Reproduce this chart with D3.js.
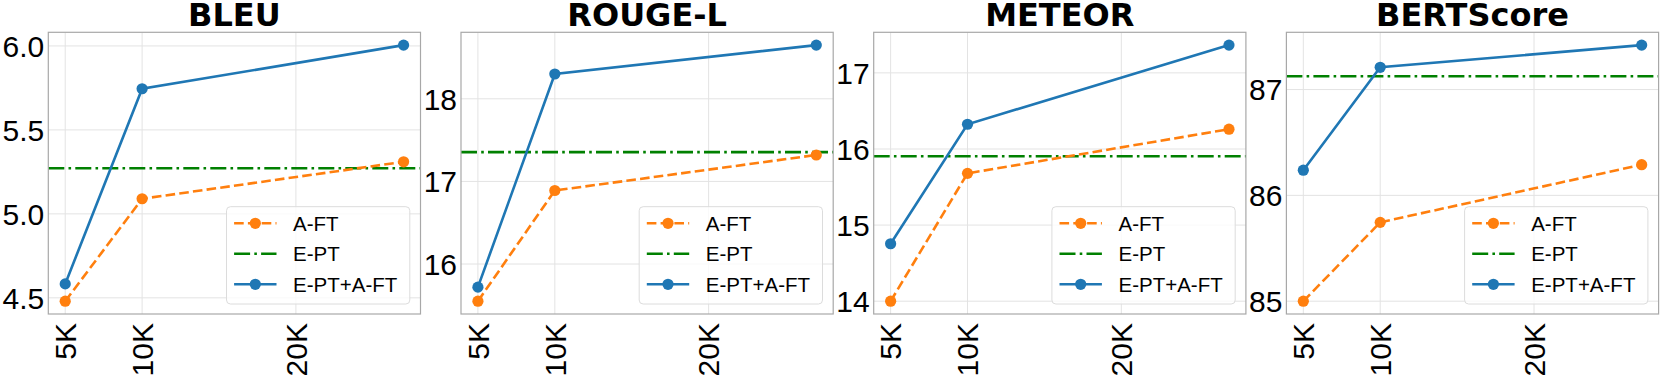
<!DOCTYPE html>
<html>
<head>
<meta charset="utf-8">
<script src="https://cdn.jsdelivr.net/npm/d3@7"></script>
<style>
  body { margin: 0; background: #fff; }
  svg { display: block; }
  text.title { font-family: "DejaVu Sans", sans-serif; font-weight: bold; }
  text.tick, text.legend { font-family: "Liberation Sans", Arial, sans-serif; }
</style>
</head>
<body>
<div id="chart"></div>
<script>
// training data sizes (in K)
var sizes = [5, 10, 27];
var xTicks = [5, 10, 20];
var xTickLabels = ["5K", "10K", "20K"];

// one entry per panel
var metrics = ["BLEU", "ROUGE-L", "METEOR", "BERTScore"];
var aft   = [[4.48, 5.09, 5.31], [15.55, 16.89, 17.32], [14.00, 15.68, 16.26], [85.00, 85.745, 86.29]];
var ept   = [5.272, 17.355, 15.905, 87.125];
var eptAft = [[4.583, 5.745, 6.005], [15.72, 18.30, 18.65], [14.755, 16.325, 17.365], [86.238, 87.21, 87.42]];
var yTicks = [[4.5, 5.0, 5.5, 6.0], [16, 17, 18], [14, 15, 16, 17], [85, 86, 87]];
var yFormats = [".1f", "d", "d", "d"];

var seriesNames = ["A-FT", "E-PT", "E-PT+A-FT"];
var colors = {aft: "#ff7f0e", ept: "#008000", both: "#1f77b4"};

/** Layout **/
var W = 1661, H = 380;
var layout = {left: 48.3, top: 32.3, bottom: 314, width: 372.2, step: 412.7};

var svg = d3.select("#chart").append("svg")
  .attr("width", W).attr("height", H);

// matplotlib-like 5% margins
function padded(lo, hi) {
  var p = (hi - lo) * 0.05;
  return [lo - p, hi + p];
}

metrics.forEach(function (name, i) {
  var x0 = layout.left + i * layout.step;
  var g = svg.append("g").attr("transform", "translate(" + x0 + ",0)");

  var allY = aft[i].concat(eptAft[i]);
  var x = d3.scaleLinear()
    .domain(padded(d3.min(sizes), d3.max(sizes)))
    .range([0, layout.width]);
  var y = d3.scaleLinear()
    .domain(padded(d3.min(allY), d3.max(allY)))
    .range([layout.bottom, layout.top]);

  // grid
  g.append("g").selectAll("line").data(xTicks).enter().append("line")
    .attr("x1", function (d) { return x(d); }).attr("x2", function (d) { return x(d); })
    .attr("y1", layout.top).attr("y2", layout.bottom)
    .attr("stroke", "#e3e3e3").attr("stroke-width", 1);
  g.append("g").selectAll("line").data(yTicks[i]).enter().append("line")
    .attr("x1", 0).attr("x2", layout.width)
    .attr("y1", function (d) { return y(d); }).attr("y2", function (d) { return y(d); })
    .attr("stroke", "#e3e3e3").attr("stroke-width", 1);

  // E-PT horizontal reference
  g.append("line")
    .attr("x1", 0).attr("x2", layout.width)
    .attr("y1", y(ept[i])).attr("y2", y(ept[i]))
    .attr("stroke", colors.ept).attr("stroke-width", 2.6)
    .attr("stroke-dasharray", "16,4.2,2.6,4.2");

  var line = d3.line()
    .x(function (d, j) { return x(sizes[j]); })
    .y(function (d) { return y(d); });

  // A-FT
  g.append("path").datum(aft[i]).attr("d", line)
    .attr("fill", "none").attr("stroke", colors.aft)
    .attr("stroke-width", 2.6).attr("stroke-dasharray", "9.6,4.2");
  g.append("g").selectAll("circle").data(aft[i]).enter().append("circle")
    .attr("cx", function (d, j) { return x(sizes[j]); })
    .attr("cy", function (d) { return y(d); })
    .attr("r", 5.6).attr("fill", colors.aft);

  // E-PT+A-FT
  g.append("path").datum(eptAft[i]).attr("d", line)
    .attr("fill", "none").attr("stroke", colors.both).attr("stroke-width", 2.6);
  g.append("g").selectAll("circle").data(eptAft[i]).enter().append("circle")
    .attr("cx", function (d, j) { return x(sizes[j]); })
    .attr("cy", function (d) { return y(d); })
    .attr("r", 5.6).attr("fill", colors.both);

  // frame
  g.append("rect")
    .attr("x", 0).attr("y", layout.top)
    .attr("width", layout.width).attr("height", layout.bottom - layout.top)
    .attr("fill", "none").attr("stroke", "#a8a8a8").attr("stroke-width", 1.2);

  // y tick labels
  var fmt = d3.format(yFormats[i]);
  g.append("g").selectAll("text").data(yTicks[i]).enter().append("text")
    .attr("class", "tick")
    .attr("x", -4).attr("y", function (d) { return y(d); })
    .attr("dy", "0.36em").attr("text-anchor", "end")
    .attr("font-size", 30).attr("fill", "#000")
    .text(function (d) { return fmt(d); });

  // x tick labels, rotated
  g.append("g").selectAll("text").data(xTicks).enter().append("text")
    .attr("class", "tick")
    .attr("transform", function (d) { return "translate(" + x(d) + ",323) rotate(-90)"; })
    .attr("dy", "0.36em").attr("text-anchor", "end")
    .attr("font-size", 30).attr("fill", "#000")
    .text(function (d, j) { return xTickLabels[j]; });

  // title
  g.append("text")
    .attr("class", "title")
    .attr("x", layout.width / 2).attr("y", 26)
    .attr("text-anchor", "middle")
    .attr("font-size", 32)
    .text(name);

  // legend, lower right
  var lw = 183.3, lh = 97.3;
  var lg = g.append("g")
    .attr("transform", "translate(" + (layout.width - 10.7 - lw) + "," + (layout.bottom - 10 - lh) + ")");
  lg.append("rect").attr("width", lw).attr("height", lh).attr("rx", 4)
    .attr("fill", "#fff").attr("fill-opacity", 0.8)
    .attr("stroke", "#dcdcdc").attr("stroke-width", 1);
  var styles = [
    {c: colors.aft, dash: "9.6,4.2", marker: true},
    {c: colors.ept, dash: "16,4.2,2.6,4.2", marker: false},
    {c: colors.both, dash: null, marker: true}
  ];
  seriesNames.forEach(function (s, k) {
    var ry = 16.6 + k * 30.5;
    lg.append("line").attr("x1", 7.6).attr("x2", 50).attr("y1", ry).attr("y2", ry)
      .attr("stroke", styles[k].c).attr("stroke-width", 2.6)
      .attr("stroke-dasharray", styles[k].dash);
    if (styles[k].marker) {
      lg.append("circle").attr("cx", 28.8).attr("cy", ry).attr("r", 5.6).attr("fill", styles[k].c);
    }
    lg.append("text").attr("class", "legend")
      .attr("x", 66.6).attr("y", ry).attr("dy", "0.36em")
      .attr("font-size", 20.5).attr("fill", "#000").text(s);
  });
});
</script>
</body>
</html>
